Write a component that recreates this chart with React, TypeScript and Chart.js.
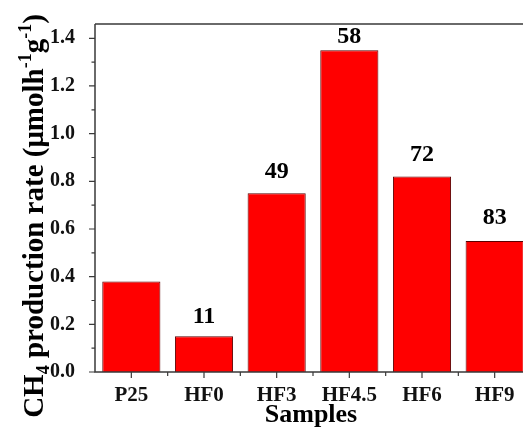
import { useEffect, useRef } from 'react';
import { Chart, registerables } from 'chart.js';

Chart.register(...registerables);

const categories = ['P25', 'HF0', 'HF3', 'HF4.5', 'HF6', 'HF9'];
const rates = [0.38, 0.15, 0.75, 1.35, 0.82, 0.55];
const barLabels = ['', '11', '49', '58', '72', '83'];
const barLabelY = [0, 0.228, 0.837, 1.404, 0.907, 0.642];
const yMajorTicks = [0, 0.2, 0.4, 0.6, 0.8, 1.0, 1.2, 1.4];
const yMinorTicks = [0.1, 0.3, 0.5, 0.7, 0.9, 1.1, 1.3];
const yMin = 0;
const yMax = 1.46;

const SERIF = '"Liberation Serif", "Times New Roman", serif';
const AXIS = '#3a3a3a';

const decorPlugin = {
  id: 'decor',
  afterDatasetsDraw(chart: any) {
    const { ctx, chartArea, scales } = chart;
    const x = scales.x;
    const y = scales.y;
    ctx.save();
    // axes lines
    ctx.strokeStyle = AXIS;
    ctx.lineWidth = 1.5;
    ctx.beginPath();
    ctx.moveTo(chartArea.left, chartArea.top);
    ctx.lineTo(chartArea.left, chartArea.bottom);
    ctx.lineTo(chartArea.right, chartArea.bottom);
    ctx.moveTo(chartArea.left, chartArea.top);
    ctx.lineTo(chartArea.right, chartArea.top);
    ctx.stroke();
    // y ticks
    ctx.lineWidth = 1.2;
    ctx.beginPath();
    yMajorTicks.forEach((v) => {
      const py = y.getPixelForValue(v);
      ctx.moveTo(chartArea.left, py);
      ctx.lineTo(chartArea.left - 6, py);
    });
    yMinorTicks.forEach((v) => {
      const py = y.getPixelForValue(v);
      ctx.moveTo(chartArea.left, py);
      ctx.lineTo(chartArea.left - 3.5, py);
    });
    // x ticks
    categories.forEach((_, i) => {
      const px = x.getPixelForValue(i);
      ctx.moveTo(px, chartArea.bottom);
      ctx.lineTo(px, chartArea.bottom + 6);
      if (i > 0) {
        const pb = (x.getPixelForValue(i - 1) + px) / 2;
        ctx.moveTo(pb, chartArea.bottom);
        ctx.lineTo(pb, chartArea.bottom + 4);
      }
    });
    ctx.stroke();

    // bar value labels
    ctx.fillStyle = '#000';
    ctx.font = `bold 24px ${SERIF}`;
    ctx.textAlign = 'center';
    ctx.textBaseline = 'middle';
    barLabels.forEach((t, i) => {
      if (!t) return;
      ctx.fillText(t, x.getPixelForValue(i), y.getPixelForValue(barLabelY[i]) - 1);
    });

    // x title
    ctx.font = `bold 26px ${SERIF}`;
    ctx.textBaseline = 'alphabetic';
    ctx.fillText('Samples', 311, 422);

    // y title (rich text, rotated)
    const main = 29;
    const small = 18;
    const segs: [string, number, number][] = [
      ['CH', main, 0],
      ['4', small, 6],
      [' production rate (\u03bcmolh', main, 0],
      ['-1', small, -12],
      ['g', main, 0],
      ['-1', small, -12],
      [')', main, 0],
    ];
    let total = 0;
    segs.forEach(([s, f]) => {
      ctx.font = `bold ${f}px ${SERIF}`;
      total += ctx.measureText(s).width;
    });
    ctx.translate(43, 216);
    ctx.rotate(-Math.PI / 2);
    ctx.textAlign = 'left';
    let u = -total / 2;
    segs.forEach(([s, f, off]) => {
      ctx.font = `bold ${f}px ${SERIF}`;
      ctx.fillText(s, u, off);
      u += ctx.measureText(s).width;
    });
    ctx.restore();
  },
};

export default function App() {
  const ref = useRef<HTMLCanvasElement>(null);
  useEffect(() => {
    const chart = new Chart(ref.current as HTMLCanvasElement, {
      type: 'bar',
      data: {
        labels: categories,
        datasets: [
          {
            data: rates,
            backgroundColor: '#ff0000',
            borderColor: '#5a0000',
            borderWidth: 1,
            categoryPercentage: 1,
            barPercentage: 0.8,
          },
        ],
      },
      options: {
        responsive: false,
        animation: false,
        layout: { padding: { left: 0, top: 20, right: 9, bottom: 0 } },
        plugins: { legend: { display: false }, tooltip: { enabled: false } },
        scales: {
          x: {
            offset: true,
            grid: { display: false },
            border: { display: false },
            ticks: {
              color: '#111',
              font: { family: SERIF, size: 21, weight: 'bold' },
              padding: 3,
              maxRotation: 0,
            },
            afterFit(scale: any) {
              scale.height = 61;
            },
          },
          y: {
            min: yMin,
            max: yMax,
            grid: { display: false },
            border: { display: false },
            afterBuildTicks(scale: any) {
              scale.ticks = yMajorTicks.map((v) => ({ value: v }));
            },
            ticks: {
              color: '#111',
              font: { family: SERIF, size: 20, weight: 'bold' },
              padding: 12,
              callback: (v: any) => Number(v).toFixed(1),
            },
            afterFit(scale: any) {
              scale.width = 95;
            },
          },
        },
      },
      plugins: [decorPlugin],
    });
    return () => chart.destroy();
  }, []);
  return (
    <div style={{ position: 'fixed', left: 0, top: 0, width: 523, height: 433, overflow: 'hidden', background: '#fff' }}>
      <canvas ref={ref} width={540} height={433} style={{ width: 540, height: 433, display: 'block' }} />
    </div>
  );
}
